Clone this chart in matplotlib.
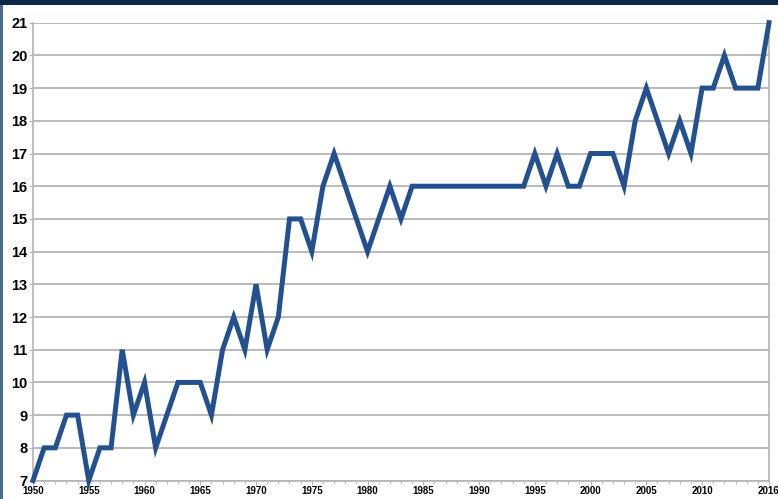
import matplotlib.pyplot as plt
from matplotlib.patches import Rectangle
from matplotlib.ticker import MultipleLocator

years = list(range(1950, 2017))
values = [7, 8, 8, 9, 9, 7, 8, 8, 11, 9,
          10, 8, 9, 10, 10, 10, 9, 11, 12, 11,
          13, 11, 12, 15, 15, 14, 16, 17, 16, 15,
          14, 15, 16, 15, 16, 16, 16, 16, 16, 16,
          16, 16, 16, 16, 16, 17, 16, 17, 16, 16,
          17, 17, 17, 16, 18, 19, 18, 17, 18, 17,
          19, 19, 20, 19, 19, 19, 21]
xtick_years = [1950, 1955, 1960, 1965, 1970, 1975, 1980, 1985, 1990,
               1995, 2000, 2005, 2010, 2016]

plt.rcParams['font.family'] = ['Liberation Sans', 'DejaVu Sans']

fig = plt.figure(figsize=(7.78, 4.99), dpi=100)
fig.patch.set_facecolor('white')
# dark strips at the edges of the screenshot
fig.patches.append(Rectangle((0, 0.99), 1, 0.01, transform=fig.transFigure,
                             facecolor='#0b2846', edgecolor='none'))
fig.patches.append(Rectangle((0, 0), 0.004, 0.99, transform=fig.transFigure,
                             facecolor='#4a6c8f', edgecolor='none'))

ax = fig.add_axes([33 / 778, 0.037, (769 - 33) / 778, 0.9545 - 0.037])
ax.plot(years, values, color='#23518f', linewidth=3.6, solid_joinstyle='miter',
        zorder=3, clip_on=False)

ax.set_xlim(1950, 2016)
ax.set_ylim(7, 21)
ax.set_yticks(range(7, 22))
ax.set_xticks(xtick_years)
ax.xaxis.set_minor_locator(MultipleLocator(1))
ax.grid(axis='y', color='#b4b4b4', linewidth=1.3)
ax.set_axisbelow(True)

for s in ['left', 'bottom', 'right']:
    ax.spines[s].set_color('#b4b4b4')
    ax.spines[s].set_linewidth(1.2)
ax.spines['top'].set_visible(False)

ax.tick_params(axis='y', labelsize=10.5, length=3, color='#b4b4b4', pad=1)
ax.tick_params(axis='x', which='major', labelsize=7, length=3, color='#b4b4b4', pad=1)
ax.tick_params(axis='x', which='minor', length=2, color='#b4b4b4')
for lab in ax.get_xticklabels() + ax.get_yticklabels():
    lab.set_fontweight('bold')

fig.savefig('out.png', dpi=100)
